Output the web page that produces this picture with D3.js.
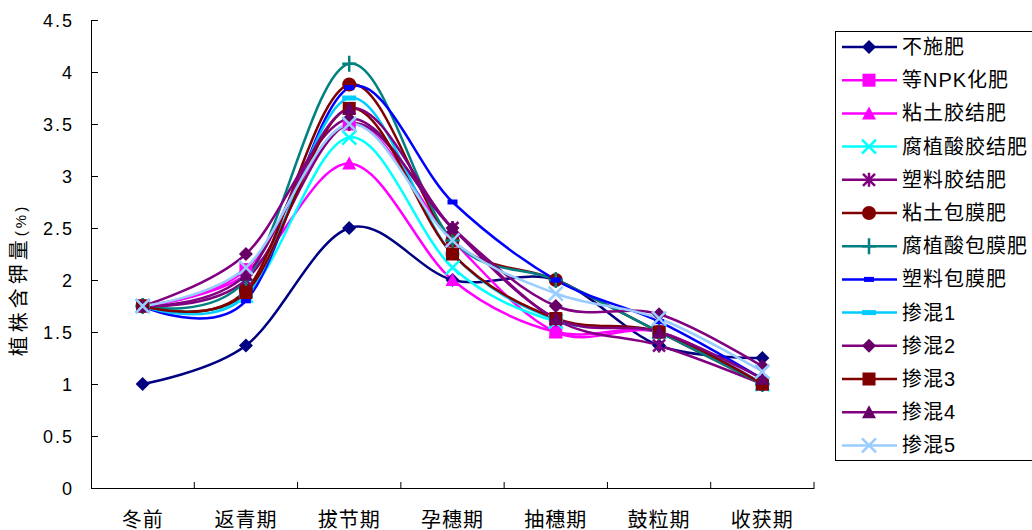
<!DOCTYPE html>
<html>
<head>
<meta charset="utf-8">
<script src="https://cdn.jsdelivr.net/npm/d3@7"></script>
<style>
  body { margin: 0; background: #fff; }
  text { font-family: "Liberation Sans", Arial, "Noto Sans CJK SC", sans-serif; fill: #000; }
</style>
</head>
<body>
<div id="chart"></div>
<script>
// data
var stages = ["冬前", "返青期", "拔节期", "孕穗期", "抽穗期", "鼓粒期", "收获期"];
var names = ["不施肥", "等NPK化肥", "粘土胶结肥", "腐植酸胶结肥", "塑料胶结肥", "粘土包膜肥",
             "腐植酸包膜肥", "塑料包膜肥", "掺混1", "掺混2", "掺混3", "掺混4", "掺混5"];
var s1  = [1.00, 1.37, 2.50, 2.00, 2.00, 1.37, 1.25];
var s2  = [1.75, 2.10, 3.50, 2.38, 1.50, 1.50, 1.00];
var s3  = [1.75, 2.05, 3.12, 2.00, 1.50, 1.50, 1.00];
var s4  = [1.75, 1.85, 3.37, 2.12, 1.60, 1.50, 1.00];
var s5  = [1.75, 2.00, 3.50, 2.50, 1.62, 1.37, 1.00];
var s6  = [1.75, 1.90, 3.88, 2.38, 2.00, 1.50, 1.00];
var s7  = [1.75, 2.00, 4.08, 2.38, 2.00, 1.50, 1.00];
var s8  = [1.75, 1.80, 3.85, 2.75, 2.00, 1.60, 1.05];
var s9  = [1.75, 1.85, 3.75, 2.25, 1.62, 1.50, 1.00];
var s10 = [1.75, 2.25, 3.55, 2.50, 1.75, 1.67, 1.17];
var s11 = [1.75, 1.88, 3.65, 2.25, 1.63, 1.50, 1.00];
var s12 = [1.75, 2.05, 3.65, 2.50, 1.63, 1.50, 1.05];
var s13 = [1.75, 2.12, 3.50, 2.38, 1.87, 1.63, 1.12];
var yTicks = [0, 0.5, 1, 1.5, 2, 2.5, 3, 3.5, 4, 4.5];

var allValues = [s1, s2, s3, s4, s5, s6, s7, s8, s9, s10, s11, s12, s13];
var lineColors = ["#000080", "#ff00ff", "#ff00ff", "#00ffff", "#800080", "#800000",
                  "#008080", "#0000ff", "#00ccff", "#800080", "#800000", "#800080", "#99ccff"];
var markColors = ["#000080", "#ff00ff", "#ff00ff", "#00ffff", "#800080", "#800000",
                  "#008080", "#0000ff", "#00ccff", "#660066", "#800000", "#660066", "#99ccff"];
var markers = ["diamond", "square", "triangle", "x", "star", "circle",
               "plus", "dash", "wdash", "diamond", "square", "triangle", "x"];

var series = names.map(function(n, i) {
  return {name: n, values: allValues[i], color: lineColors[i], mcolor: markColors[i], marker: markers[i]};
});

var W = 1032, H = 530;
var svg = d3.select("#chart").append("svg").attr("width", W).attr("height", H);

var x = d3.scaleBand().domain(stages).range([91, 814]);
var y = d3.scaleLinear().domain([0, 4.5]).range([488, 20]);
var cx = function(d) { return x(d) + x.bandwidth() / 2; };

// axes
var yAxis = svg.append("g").attr("transform", "translate(91,0)")
  .call(d3.axisLeft(y).tickValues(yTicks).tickSize(-7).tickPadding(17)
    .tickFormat(function(d) { return d3.format("")(d); }));
yAxis.select(".domain").attr("stroke", "#000").attr("stroke-width", 1);
yAxis.selectAll(".tick line").attr("stroke", "#000");
yAxis.selectAll("text").style("font-size", "18px").style("letter-spacing", "2px")
  .attr("dy", "0.35em");

var xAxis = svg.append("g").attr("transform", "translate(0,488)")
  .call(d3.axisBottom(x).tickSize(0).tickPadding(25));
xAxis.select(".domain").attr("stroke", "#000");
xAxis.selectAll("text").style("font-size", "20px").style("letter-spacing", "1px");
// ticks at band edges, pointing inward
var edges = stages.map(function(d) { return x(d); }).concat([x.range()[1]]).slice(1);
svg.append("g").selectAll("line").data(edges).enter().append("line")
  .attr("x1", function(d) { return d; }).attr("x2", function(d) { return d; })
  .attr("y1", 488).attr("y2", 482).attr("stroke", "#000");

var ylab = svg.append("text")
  .attr("transform", "translate(26,280) rotate(-90)")
  .attr("text-anchor", "middle")
  .style("font-size", "20px").style("letter-spacing", "4px");
ylab.append("tspan").text("植株含钾量");
ylab.append("tspan").style("font-size", "15px").style("letter-spacing", "3px").text("(%)");

// marker drawing
function drawMarker(g, type, color) {
  var r = 6.5;
  if (type === "diamond") {
    g.append("path").attr("d", "M0,-7L7,0L0,7L-7,0Z").attr("fill", color);
  } else if (type === "square") {
    g.append("rect").attr("x", -r).attr("y", -r).attr("width", 2 * r).attr("height", 2 * r).attr("fill", color);
  } else if (type === "triangle") {
    g.append("path").attr("d", "M0,-7L7,6L-7,6Z").attr("fill", color);
  } else if (type === "circle") {
    g.append("circle").attr("r", 7).attr("fill", color);
  } else if (type === "x") {
    g.append("path").attr("d", "M-7,-7L7,7M-7,7L7,-7").attr("stroke", color).attr("stroke-width", 2.5);
  } else if (type === "star") {
    g.append("path").attr("d", "M-6,-6L6,6M-6,6L6,-6M0,-7L0,7").attr("stroke", color).attr("stroke-width", 2.5);
  } else if (type === "plus") {
    g.append("path").attr("d", "M-7,0L7,0M0,-8L0,8").attr("stroke", color).attr("stroke-width", 2.5);
  } else if (type === "dash") {
    g.append("rect").attr("x", -5).attr("y", -2.5).attr("width", 10).attr("height", 5).attr("fill", color);
  } else if (type === "wdash") {
    g.append("rect").attr("x", -7).attr("y", -2.5).attr("width", 14).attr("height", 5).attr("fill", color);
  }
}

var line = d3.line()
  .x(function(d, i) { return cx(stages[i]); })
  .y(function(d) { return y(d); })
  .curve(d3.curveCardinal.tension(0));

var plot = svg.append("g");
series.forEach(function(s) {
  plot.append("path").datum(s.values)
    .attr("d", line)
    .attr("fill", "none")
    .attr("stroke", s.color)
    .attr("stroke-width", 2.5);
});
series.forEach(function(s) {
  s.values.forEach(function(v, i) {
    var g = plot.append("g").attr("transform", "translate(" + cx(stages[i]) + "," + y(v) + ")");
    drawMarker(g, s.marker, s.mcolor);
  });
});

// legend
var lg = svg.append("g");
lg.append("rect").attr("x", 835.5).attr("y", 31.5).attr("width", 220).attr("height", 429)
  .attr("fill", "#fff").attr("stroke", "#000").attr("stroke-width", 1);
var rowH = 33.2;
var item = lg.selectAll("g.item").data(series).enter().append("g").attr("class", "item")
  .attr("transform", function(d, i) { return "translate(0," + (47 + i * rowH) + ")"; });
item.append("line").attr("x1", 842).attr("x2", 897).attr("y1", 0).attr("y2", 0)
  .attr("stroke", function(d) { return d.color; }).attr("stroke-width", 2.5);
item.each(function(d) {
  var g = d3.select(this).append("g").attr("transform", "translate(869,0)");
  drawMarker(g, d.marker, d.mcolor);
});
item.append("text").attr("x", 902).attr("dy", "0.35em")
  .style("font-size", "20px").style("letter-spacing", "1px")
  .text(function(d) { return d.name; });
</script>
</body>
</html>
